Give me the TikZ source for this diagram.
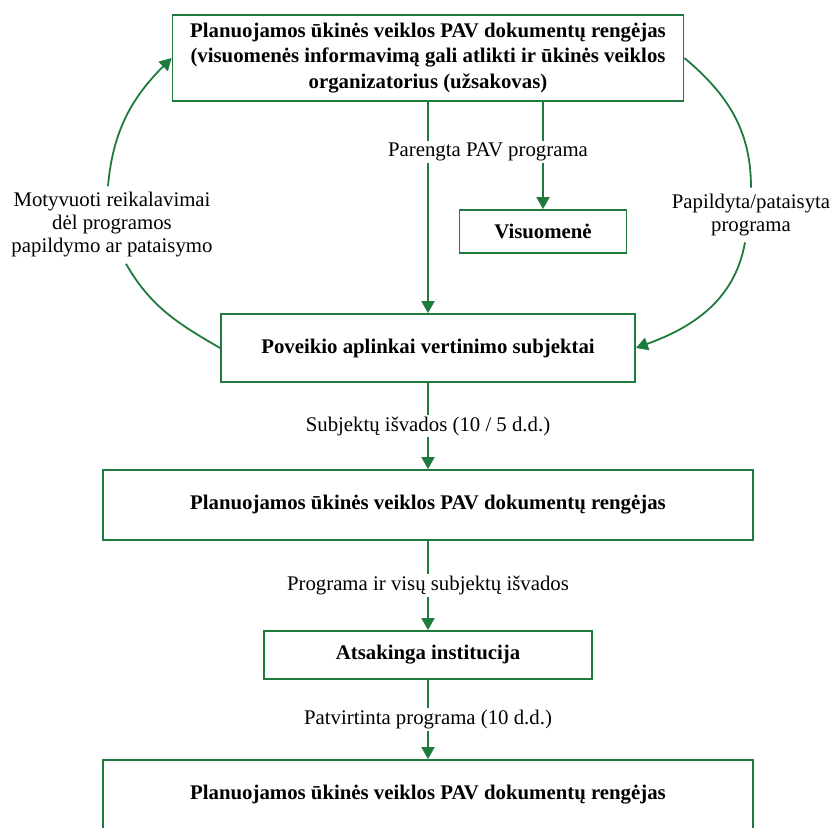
\documentclass[tikz,border=0pt]{standalone}
\usepackage{fontspec}
\setmainfont{Liberation Serif}
\usetikzlibrary{arrows.meta}
\definecolor{pavgreen}{RGB}{31,122,62}

\begin{document}
\begin{tikzpicture}[x=0.5pt, y=-0.5pt,
    >={Triangle[length=6pt,width=6.5pt]},
    box/.style={draw=pavgreen, line width=0.9pt, align=center, inner sep=0pt,
        font=\fontsize{10.4}{12.75}\selectfont\bfseries},
    lbl/.style={align=center, inner sep=1pt, font=\fontsize{10.4}{11.5}\selectfont},
    side/.style={lbl, inner sep=3pt},
    conn/.style={draw=pavgreen, line width=0.9pt}]
    \useasboundingbox (0,0) rectangle (834,828);
    \clip (0,0) rectangle (834,828);

    % boxes
    \node[box, minimum width=255.5pt, minimum height=43pt] (top) at (428,58)
        {Planuojamos ūkinės veiklos PAV dokumentų rengėjas\\
         (visuomenės informavimą gali atlikti ir ūkinės veiklos\\
         organizatorius (užsakovas)};
    \node[box, minimum width=83.5pt, minimum height=21.5pt] (vis) at (543,231.5) {Visuomenė};
    \node[box, minimum width=207pt, minimum height=34pt] (pov) at (428,348)
        {Poveikio aplinkai vertinimo subjektai};
    \node[box, minimum width=325pt, minimum height=35pt] (ren2) at (428,505)
        {Planuojamos ūkinės veiklos PAV dokumentų rengėjas};
    \node[box, minimum width=164pt, minimum height=24pt] (ats) at (428,655) {Atsakinga institucija};
    \node[box, minimum width=325pt, minimum height=35pt] (ren3) at (428,795)
        {Planuojamos ūkinės veiklos PAV dokumentų rengėjas};

    % loop labels
    \node[side] (motyv) at (112,225) {Motyvuoti reikalavimai\\dėl programos\\papildymo ar pataisymo};
    \node[side] (papild) at (751,215) {Papildyta/pataisyta\\programa};

    % main flow
    \draw[conn, ->] (top) -- (pov);
    \draw[conn, ->] (top.south -| vis.north) -- (vis.north);
    \node[lbl, fill=white] (pareng) at (488,152) {Parengta PAV programa};
    \draw[conn, ->] (pov) -- node[lbl, fill=white] {Subjektų išvados (10 / 5 d.d.)} (ren2);
    \draw[conn, ->] (ren2) -- node[lbl, fill=white] {Programa ir visų subjektų išvados} (ats);
    \draw[conn, ->] (ats) -- node[lbl, fill=white] {Patvirtinta programa (10 d.d.)} (ren3);

    % loop
    \draw[conn] (pov.west) to[out=150, in=-60] ([xshift=7pt]motyv.south);
    \draw[conn, ->] ([xshift=-2pt]motyv.north) to[out=85, in=-135] (top.west);
    \draw[conn] (top.east) to[out=-40, in=90] (papild.north);
    \draw[conn, ->] ([xshift=-3pt]papild.south) to[out=-100, in=20] (pov.east);
\end{tikzpicture}
\end{document}
